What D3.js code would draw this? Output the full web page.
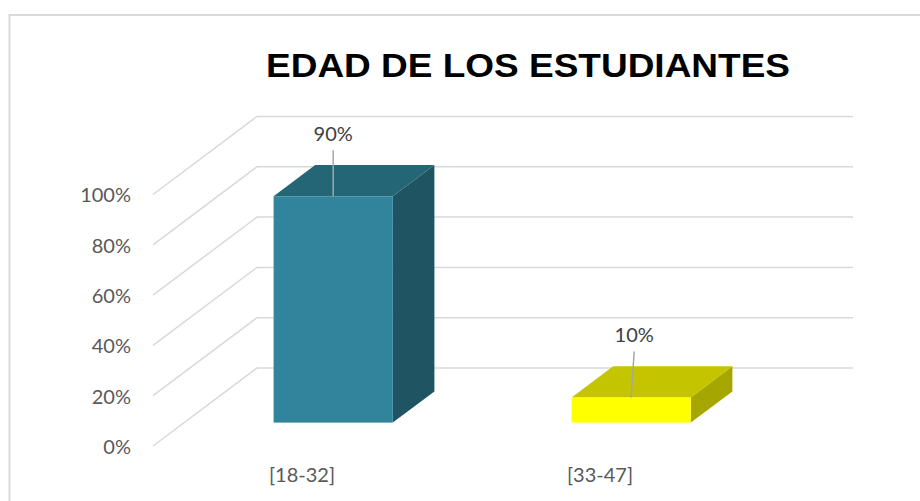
<!DOCTYPE html>
<html>
<head>
<meta charset="utf-8">
<script src="https://cdn.jsdelivr.net/npm/d3@7"></script>
<style>
	body { margin: 0; background: #fff; }
	svg { display: block; }
	.tick text { font-family: Lato, "Open Sans", sans-serif; font-size: 20px; fill: #595959; }
</style>
</head>
<body>
<svg id="graph"></svg>
<script>
var categories = ["[18-32]", "[33-47]"];
var values = [0.9, 0.1];
var valueLabels = ["90%", "10%"];
var yTicks = [0, 0.2, 0.4, 0.6, 0.8, 1];
var title = "EDAD DE LOS ESTUDIANTES";

var colors = [
	{front: "#31849b", top: "#246675", side: "#1f5463"},
	{front: "#ffff00", top: "#c4c400", side: "#a6a600"}
];

var width = 920, height = 501;
// profundidad del grafico 3D
var depthX = 104, depthY = -78;

var svg = d3.select("#graph")
	.attr("width", width)
	.attr("height", height);

// marco
svg.append("rect")
	.attr("x", 9.5)
	.attr("y", 15)
	.attr("width", width)
	.attr("height", height)
	.attr("fill", "none")
	.attr("stroke", "#d9d9d9")
	.attr("stroke-width", 2);

svg.append("text")
	.attr("x", 528)
	.attr("y", 77)
	.attr("text-anchor", "middle")
	.attr("textLength", 524)
	.attr("lengthAdjust", "spacingAndGlyphs")
	.style("font-family", "'Liberation Sans', Arial, sans-serif")
	.style("font-weight", "bold")
	.style("font-size", "34px")
	.attr("fill", "#000")
	.text(title);

var x = d3.scaleBand()
	.domain(categories)
	.range([153, 749])
	.paddingInner(0.6)
	.paddingOuter(0.3);
var y = d3.scaleLinear().domain([0, 1]).range([446, 194.5]);

function px(xv, d) { return xv + d * depthX; }
function py(v, d) { return y(v) + d * depthY; }

// lineas de la pared izquierda y de fondo
var grid = svg.append("g");
yTicks.forEach(function (t) {
	grid.append("polyline")
		.attr("points", [
			[px(x.range()[0], 0), py(t, 0)],
			[px(x.range()[0], 1), py(t, 1)],
			[px(x.range()[1], 1), py(t, 1)]
		].join(" "))
		.attr("fill", "none")
		.attr("stroke", "#d9d9d9")
		.attr("stroke-width", 1.5);
});

// eje Y
var yAxis = d3.axisLeft(y)
	.tickValues(yTicks)
	.tickFormat(d3.format(".0%"))
	.tickSize(0)
	.tickPadding(9);
svg.append("g")
	.attr("transform", "translate(140,1)")
	.call(yAxis)
	.call(function (g) { g.select(".domain").remove(); });

// eje X
var xAxis = d3.axisBottom(x)
	.tickSize(0)
	.tickPadding(0);
svg.append("g")
	.attr("transform", "translate(0,468)")
	.call(xAxis)
	.call(function (g) { g.select(".domain").remove(); });

// barras
var d0 = 0.3, d1 = 0.7;
categories.forEach(function (c, i) {
	var x0 = x(c), x1 = x(c) + x.bandwidth();
	var v = values[i];
	var col = colors[i];
	var bar = svg.append("g");

	bar.append("polygon")
		.attr("points", [
			[px(x1, d0), py(0, d0)], [px(x1, d1), py(0, d1)],
			[px(x1, d1), py(v, d1)], [px(x1, d0), py(v, d0)]
		].join(" "))
		.attr("fill", col.side);
	bar.append("polygon")
		.attr("points", [
			[px(x0, d0), py(v, d0)], [px(x0, d1), py(v, d1)],
			[px(x1, d1), py(v, d1)], [px(x1, d0), py(v, d0)]
		].join(" "))
		.attr("fill", col.top);
	bar.append("rect")
		.attr("x", px(x0, d0))
		.attr("y", py(v, d0))
		.attr("width", x.bandwidth())
		.attr("height", py(0, d0) - py(v, d0))
		.attr("fill", col.front);

	// etiqueta de datos
	var cx = px(x0 + x.bandwidth() / 2, d0);
	var top = py(v, d0);
	bar.append("line")
		.attr("x1", cx)
		.attr("y1", top)
		.attr("x2", cx + (i == 0 ? 0 : 3))
		.attr("y2", top - 46)
		.attr("stroke", "#a6a6a6")
		.attr("stroke-width", 1.5);
	bar.append("text")
		.attr("x", cx + (i == 0 ? 0 : 3))
		.attr("y", top - 55)
		.attr("text-anchor", "middle")
		.style("font-family", "Lato, 'Open Sans', sans-serif")
		.style("font-size", "20px")
		.attr("fill", "#404040")
		.text(valueLabels[i]);
});
</script>
</body>
</html>
